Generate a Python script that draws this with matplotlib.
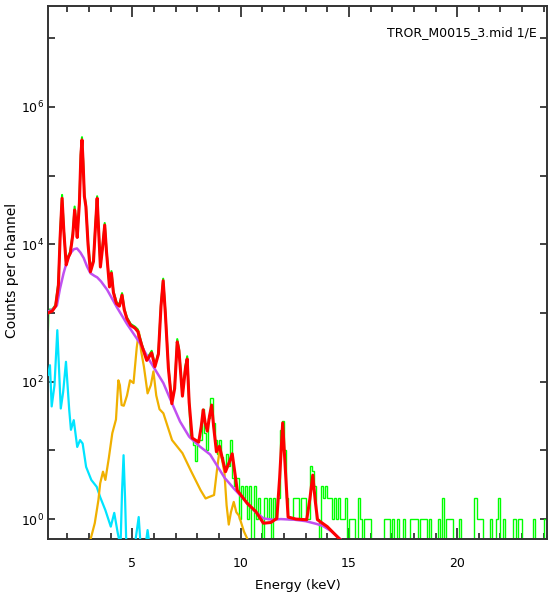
import numpy as np
import matplotlib
matplotlib.use('Agg')
import matplotlib.pyplot as plt
from matplotlib.ticker import FixedLocator, FuncFormatter

# --- fitted total (red), energy in keV, log10(counts) ---
red_e = [1.10, 1.30, 1.45, 1.58, 1.66, 1.75, 1.83, 1.94, 2.05, 2.13, 2.25, 2.33, 2.40, 2.45,
         2.55, 2.62, 2.67, 2.72, 2.78, 2.85, 2.95, 3.06, 3.20, 3.30, 3.37, 3.44, 3.52, 3.62,
         3.72, 3.80, 3.94, 4.03, 4.12, 4.26, 4.40, 4.52, 4.62, 4.74, 4.92, 5.12, 5.25, 5.43,
         5.66, 5.89, 6.04, 6.20, 6.32, 6.42, 6.52, 6.66, 6.82, 6.95, 7.07, 7.15, 7.31, 7.45,
         7.53, 7.62, 7.76, 8.06, 8.18, 8.27, 8.36, 8.46, 8.56, 8.66, 8.75, 8.88, 9.02, 9.30,
         9.50, 9.61, 9.72, 9.84, 10.30, 10.70, 11.05, 11.39, 11.67, 11.80, 11.94, 12.05,
         12.19, 12.55, 13.05, 13.20, 13.33, 13.45, 13.55, 14.00, 14.63]
red_log = [3.00, 3.03, 3.10, 3.40, 4.10, 4.67, 4.20, 3.70, 3.82, 3.87, 4.15, 4.50, 4.30, 4.10,
           4.60, 5.30, 5.52, 5.20, 4.70, 4.55, 4.00, 3.60, 3.75, 4.30, 4.67, 4.20, 3.67, 3.95,
           4.28, 3.90, 3.38, 3.58, 3.30, 3.14, 3.10, 3.26, 3.05, 2.92, 2.82, 2.78, 2.73, 2.53,
           2.31, 2.42, 2.22, 2.40, 3.10, 3.47, 3.00, 2.20, 1.68, 1.90, 2.58, 2.45, 1.79, 2.20,
           2.33, 1.70, 1.18, 1.12, 1.35, 1.59, 1.40, 1.28, 1.50, 1.66, 1.35, 0.98, 1.06, 0.69,
           0.85, 0.95, 0.70, 0.42, 0.23, 0.11, -0.06, -0.05, 0.01, 0.60, 1.40, 0.80,
           0.03, 0.00, -0.01, 0.30, 0.64, 0.25, -0.01, -0.11, -0.31]

# --- continuum (magenta) ---
bkg_e = [1.10, 1.30, 1.51, 1.65, 1.82, 2.00, 2.13, 2.30, 2.44, 2.60, 2.75, 2.90, 3.06, 3.25,
         3.37, 3.55, 3.83, 4.29, 4.75, 5.35, 5.81, 6.43, 6.74, 7.20, 7.62, 8.10, 8.59, 9.26,
         9.70, 10.23, 10.60, 11.05, 11.50, 11.85, 12.50, 13.00, 13.50, 13.80, 14.20, 14.60]
bkg_log = [3.02, 3.05, 3.11, 3.35, 3.58, 3.78, 3.87, 3.93, 3.94, 3.88, 3.80, 3.68, 3.58, 3.54,
           3.52, 3.46, 3.34, 3.08, 2.84, 2.56, 2.30, 1.98, 1.75, 1.42, 1.20, 1.06, 0.94, 0.60,
           0.44, 0.26, 0.13, 0.01, -0.01, 0.00, -0.01, -0.03, -0.07, -0.10, -0.18, -0.29]

# --- component (orange) ---
orn_e = [3.02, 3.26, 3.43, 3.51, 3.64, 3.75, 3.91, 4.07, 4.24, 4.35, 4.42, 4.50, 4.60, 4.75,
         4.89, 5.05, 5.20, 5.30, 5.40, 5.53, 5.70, 5.85, 5.97, 6.10, 6.25, 6.43, 6.83, 7.31,
         7.69, 8.15, 8.38, 8.53, 8.77, 8.90, 9.03, 9.15, 9.25, 9.35, 9.45, 9.55, 9.68, 9.80,
         9.92, 10.15, 10.40]
orn_log = [-0.35, -0.06, 0.28, 0.52, 0.69, 0.57, 0.89, 1.25, 1.45, 2.02, 1.95, 1.66, 1.65, 1.80,
           2.02, 1.98, 2.50, 2.73, 2.45, 2.22, 1.83, 1.95, 2.15, 1.80, 1.60, 1.54, 1.15, 0.96,
           0.71, 0.42, 0.30, 0.32, 0.35, 0.70, 1.02, 0.85, 0.67, 0.20, -0.08, 0.10, 0.25, 0.10,
           0.05, -0.18, -0.35]

# --- component (cyan) ---
cyn_e = [1.10, 1.19, 1.27, 1.40, 1.53, 1.69, 1.80, 1.93, 2.08, 2.16, 2.29, 2.45, 2.58, 2.70,
         2.86, 3.10, 3.35, 3.51, 3.75, 4.00, 4.16, 4.32, 4.45, 4.52, 4.59, 4.66, 4.72, 5.10,
         5.29, 5.38, 5.60, 5.70, 5.80]
cyn_log = [2.10, 2.24, 1.64, 1.95, 2.75, 1.61, 1.85, 2.29, 1.59, 1.30, 1.44, 1.05, 1.15, 1.10,
           0.76, 0.57, 0.47, 0.32, 0.13, -0.11, 0.09, -0.20, -0.40, 0.40, 0.93, 0.30, -0.40, -0.40,
           0.03, -0.40, -0.40, -0.16, -0.40]

# --- measured spectrum (green), low-energy part as read points ---
grn_lo_e = [1.10, 1.12, 1.30, 1.45, 1.58, 1.66, 1.75, 1.83, 1.94, 2.05, 2.13, 2.25, 2.33, 2.40,
            2.45, 2.55, 2.62, 2.67, 2.72, 2.78, 2.85, 2.95, 3.06, 3.20, 3.30, 3.37, 3.44, 3.52,
            3.62, 3.72, 3.80, 3.94, 4.03, 4.12, 4.26, 4.40, 4.52, 4.62, 4.74, 4.92, 5.12, 5.25,
            5.43, 5.66, 5.89, 6.04, 6.20, 6.32, 6.42, 6.52, 6.66, 6.82, 6.95, 7.07, 7.15, 7.31,
            7.45, 7.53, 7.62, 7.70]
grn_lo_log = [2.75, 3.05, 3.05, 3.12, 3.45, 4.15, 4.72, 4.22, 3.72, 3.84, 3.90, 4.18, 4.55, 4.32,
              4.12, 4.64, 5.35, 5.56, 5.24, 4.72, 4.58, 4.02, 3.62, 3.78, 4.34, 4.70, 4.22, 3.70,
              3.97, 4.31, 3.92, 3.40, 3.61, 3.32, 3.16, 3.12, 3.29, 3.07, 2.94, 2.84, 2.80, 2.76,
              2.55, 2.33, 2.45, 2.24, 2.42, 3.13, 3.50, 3.02, 2.22, 1.70, 1.93, 2.62, 2.48, 1.82,
              2.23, 2.37, 1.72, 1.18]

# --- measured spectrum (green), 0.1 keV channels from 7.7 keV ---
grn_start = 7.7
grn_width = 0.1
grn_counts = [15, 12, 7,
              14, 14, 40, 18, 10, 30, 58, 25, 14, 9,
              14, 8, 6, 9, 6, 14, 4, 3, 4, 1,
              3, 2, 3, 1, 3, 0, 3, 1, 2, 1,
              0, 2, 1, 2, 0, 2, 1, 2, 20, 27,
              10, 2, 1, 1, 2, 2, 2, 1, 2, 2,
              1, 1, 6, 5, 3, 1, 0, 3, 2, 3,
              2, 2, 1, 2, 1, 2, 1, 1, 2, 0,
              1, 1, 1, 0, 2, 1, 0, 1, 1, 1,
              0, 0, 0, 0, 0, 0, 1, 1, 1, 0,
              1, 0, 1, 0, 0, 1, 0, 0, 1, 1,
              1, 1, 0, 1, 1, 1, 0, 1, 0, 0,
              0, 1, 0, 2, 0, 1, 1, 1, 0, 0,
              0, 1, 0, 0, 0, 0, 0, 0, 2, 1,
              1, 1, 0, 0, 0, 1, 0, 0, 1, 2,
              0, 1, 0, 0, 0, 0, 1, 0, 1, 1,
              0, 0, 0, 0, 0, 1, 0, 0, 0, 0,
              1, 1]

title_text = 'TROR_M0015_3.mid 1/E'

fig = plt.figure(figsize=(5.49, 5.93), dpi=100)
ax = fig.add_axes([48 / 549, 1 - 539 / 593, 499 / 549, 533 / 593])

# green measured data
ax.plot(grn_lo_e, 10.0 ** np.array(grn_lo_log), color='#00ff00', lw=1.5, zorder=2)
gc = np.array(grn_counts, dtype=float)
gc[gc <= 0] = 0.1
edges = grn_start + grn_width * np.arange(len(gc) + 1)
ax.stairs(gc, edges, baseline=None, color='#00ff00', lw=1.0, zorder=2)

ax.plot(cyn_e, 10.0 ** np.array(cyn_log), color='#00e4ff', lw=1.6, zorder=3)
ax.plot(orn_e, 10.0 ** np.array(orn_log), color='#f0b000', lw=1.6, zorder=3)
ax.plot(bkg_e, 10.0 ** np.array(bkg_log), color='#c050f0', lw=1.8, zorder=4)
ax.plot(red_e, 10.0 ** np.array(red_log), color='#ff0000', lw=2.2, zorder=5)

ax.set_yscale('log')
ax.set_xlim(1.1, 24.15)
ax.set_ylim(10 ** -0.29, 10 ** 7.47)

# ticks
ax.xaxis.set_major_locator(FixedLocator([5, 10, 15, 20]))
ax.xaxis.set_minor_locator(FixedLocator(range(2, 25)))
ax.yaxis.set_major_locator(FixedLocator([10.0 ** k for k in range(0, 8)]))
ax.yaxis.set_minor_locator(FixedLocator([]))
ax.yaxis.set_major_formatter(FuncFormatter(
    lambda v, p: r'$10^{%d}$' % round(np.log10(v)) if round(np.log10(v)) % 2 == 0 else ''))
ax.tick_params(axis='both', which='both', direction='in', top=True, right=True,
               color='#222222', width=1.2)
ax.tick_params(axis='x', which='major', length=8, pad=13, labelsize=9)
ax.tick_params(axis='x', which='minor', length=4)
ax.tick_params(axis='y', which='major', length=5, pad=3, labelsize=9)

for s in ax.spines.values():
    s.set_color('#333333')
    s.set_linewidth(1.4)

ax.text(0.98, 0.951, title_text, transform=ax.transAxes, ha='right', va='center',
        fontsize=9)
fig.text(12 / 549, 1 - 270 / 593, 'Counts per channel', rotation=90, ha='center',
         va='center', fontsize=10)
fig.text(298 / 549, 1 / 593, 'Energy (keV)', ha='center', va='bottom', fontsize=9.5)

fig.savefig('out.png', dpi=100)
